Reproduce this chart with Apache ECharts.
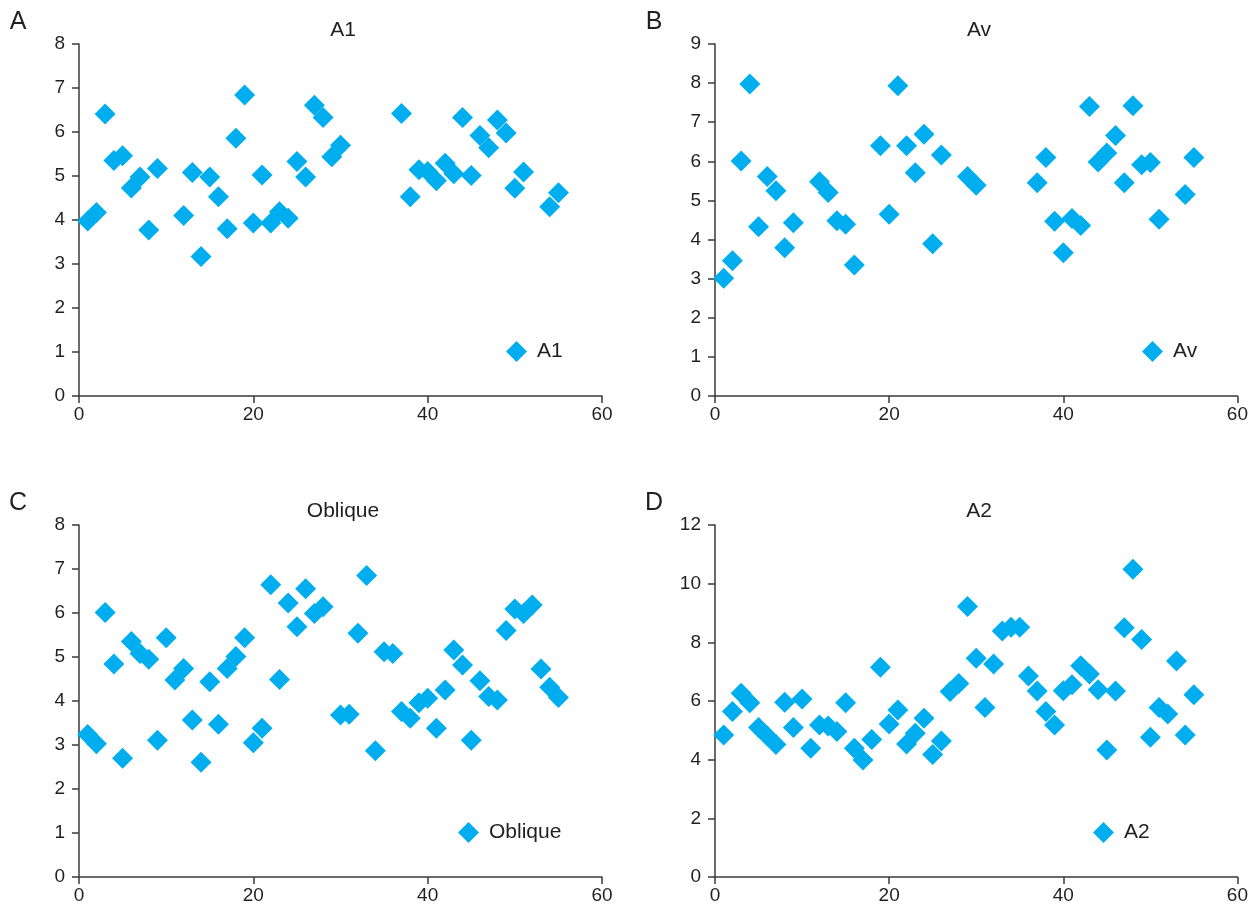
<!DOCTYPE html>
<html>
<head>
<meta charset="utf-8">
<script src="https://cdn.jsdelivr.net/npm/echarts@6/dist/echarts.min.js"></script>
<style>html,body{margin:0;padding:0;background:#fff}#c{width:1251px;height:910px}</style>
</head>
<body>
<div id="c"></div>
<script>
const xA = [1,2,3,4,5,6,7,8,9,12,13,14,15,16,17,18,19,20,21,22,23,24,25,26,27,28,29,30,37,38,39,40,41,42,43,44,45,46,47,48,49,50,51,54,55];
const yA = [3.98,4.17,6.41,5.35,5.46,4.73,4.98,3.77,5.17,4.10,5.08,3.17,4.98,4.53,3.80,5.86,6.84,3.93,5.02,3.93,4.19,4.04,5.33,4.98,6.61,6.33,5.44,5.70,6.42,4.53,5.14,5.10,4.89,5.29,5.05,6.33,5.01,5.92,5.64,6.27,5.98,4.72,5.09,4.30,4.62];

const xB = [1,2,3,4,5,6,7,8,9,12,13,14,15,16,19,20,21,22,23,24,25,26,29,30,37,38,39,40,41,42,43,44,45,46,47,48,49,50,51,54,55];
const yB = [3.01,3.46,6.01,7.98,4.33,5.61,5.25,3.79,4.43,5.48,5.20,4.48,4.39,3.35,6.40,4.65,7.93,6.40,5.71,6.69,3.89,6.16,5.61,5.39,5.45,6.10,4.47,3.66,4.54,4.36,7.40,5.98,6.21,6.66,5.45,7.42,5.91,5.97,4.52,5.15,6.10];

const xC = [1,2,3,4,5,6,7,8,9,10,11,12,13,14,15,16,17,18,19,20,21,22,23,24,25,26,27,28,30,31,32,33,34,35,36,37,38,39,40,41,42,43,44,45,46,47,48,49,50,51,52,53,54,55];
const yC = [3.24,3.03,6.01,4.84,2.70,5.35,5.08,4.95,3.11,5.44,4.48,4.74,3.57,2.61,4.44,3.47,4.74,5.01,5.44,3.05,3.38,6.64,4.49,6.23,5.69,6.55,5.99,6.14,3.68,3.70,5.54,6.85,2.87,5.12,5.08,3.76,3.61,3.96,4.06,3.38,4.25,5.16,4.82,3.11,4.46,4.10,4.02,5.60,6.09,5.99,6.18,4.73,4.31,4.08];

const xD = [1,2,3,4,5,6,7,8,9,10,11,12,13,14,15,16,17,18,19,20,21,22,23,24,25,26,27,28,29,30,31,32,33,34,35,36,37,38,39,40,41,42,43,44,45,46,47,48,49,50,51,52,53,54,55];
const yD = [4.84,5.64,6.26,5.94,5.10,4.81,4.52,5.96,5.10,6.07,4.39,5.18,5.15,4.96,5.94,4.39,3.99,4.69,7.15,5.22,5.69,4.53,4.90,5.41,4.18,4.64,6.32,6.60,9.22,7.46,5.78,7.26,8.39,8.51,8.51,6.85,6.34,5.64,5.18,6.35,6.55,7.20,6.92,6.38,4.33,6.34,8.50,10.49,8.10,4.76,5.78,5.56,7.36,4.84,6.21];

const names = ['A1','Av','Oblique','A2'];
const letters = ['A','B','C','D'];
const yMax = [8,9,8,12];
const yStep = [1,1,1,2];
const xMax = 60, xStep = 20;

const FONT = 'Liberation Sans';
const TXT = '#231f20';
const AX = '#3a3a3a';
const COL = '#00AEEF';

const grids = [
  {left:79, top:44, width:523, height:352},
  {left:715, top:44, width:523, height:352},
  {left:79, top:525, width:523, height:352},
  {left:715, top:525, width:523, height:352}
];
const legendOffset = [427, 427, 379, 378];
const xs = [xA,xB,xC,xD], ys=[yA,yB,yC,yD];

const option = {
  animation:false,
  backgroundColor:'#fff',
  textStyle:{fontFamily:FONT},
  grid: grids,
  xAxis: grids.map((g,i)=>({
    type:'value', gridIndex:i, min:0, max:xMax, interval:xStep,
    axisLine:{show:true, onZero:false, lineStyle:{color:AX, width:1.5}},
    axisTick:{show:true, length:7, lineStyle:{color:AX, width:1.5}},
    axisLabel:{color:TXT, fontSize:19, margin:9, fontFamily:FONT},
    splitLine:{show:false}
  })),
  yAxis: grids.map((g,i)=>({
    type:'value', gridIndex:i, min:0, max:yMax[i], interval:yStep[i],
    axisLine:{show:true, onZero:false, lineStyle:{color:AX, width:1.5}},
    axisTick:{show:true, length:7, lineStyle:{color:AX, width:1.5}},
    axisLabel:{color:TXT, fontSize:19, margin:14, fontFamily:FONT},
    splitLine:{show:false}
  })),
  legend: grids.map((g,i)=>({
    data:[{name:names[i], icon:'diamond'}],
    left: g.left + legendOffset[i], top: g.top + 297,
    padding:0, itemWidth:21, itemHeight:21, itemGap:0,
    textStyle:{color:TXT, fontSize:21, fontFamily:FONT, padding:[0,0,0,5]}
  })),
  series: names.map((n,i)=>({
    name:n, type:'scatter', xAxisIndex:i, yAxisIndex:i,
    symbol:'diamond', symbolSize:21,
    itemStyle:{color:COL, opacity:1},
    data: xs[i].map((x,k)=>[x, ys[i][k]])
  })),
  graphic: [].concat(
    grids.map((g,i)=>({
      type:'text', x: g.left + 264, y: g.top - 14,
      style:{text:names[i], fill:TXT, font:'21px "Liberation Sans"', textAlign:'center', textVerticalAlign:'middle'}
    })),
    grids.map((g,i)=>({
      type:'text', x: g.left - 61, y: g.top - 22,
      style:{text:letters[i], fill:TXT, font:'25px "Liberation Sans"', textAlign:'center', textVerticalAlign:'middle'}
    }))
  )
};
const chart = echarts.init(document.getElementById('c'), null, {renderer:'canvas'});
chart.setOption(option);
</script>
</body>
</html>
